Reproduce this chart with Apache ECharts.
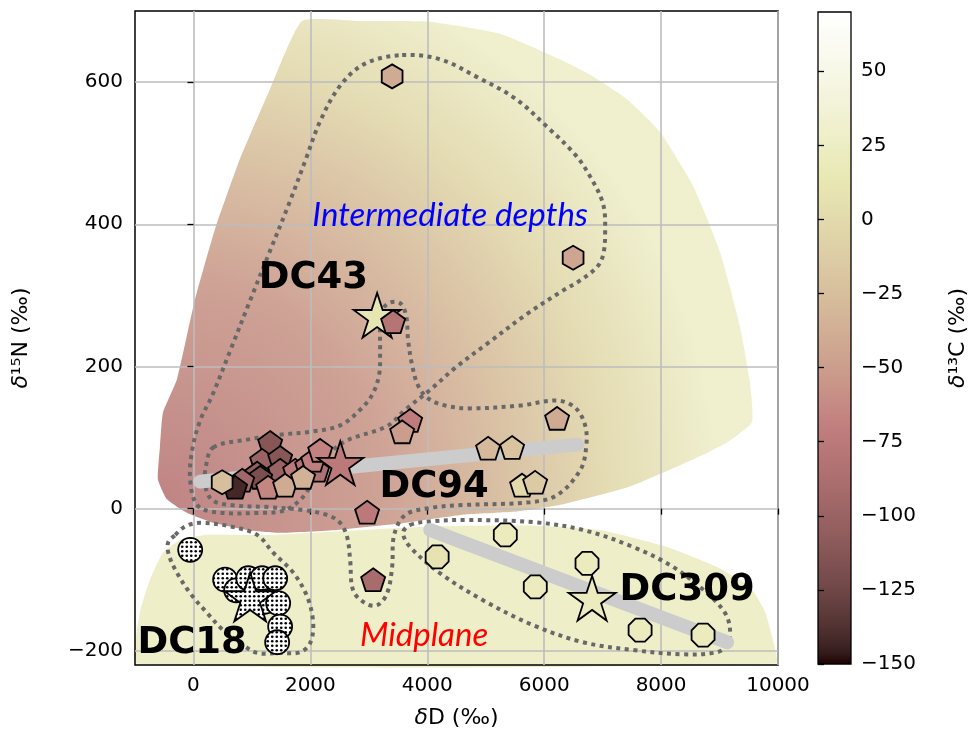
<!DOCTYPE html>
<html><head><meta charset="utf-8">
<script src="https://cdn.jsdelivr.net/npm/echarts@6/dist/echarts.min.js"></script>
<style>html,body{margin:0;padding:0;background:#fff}#c{width:974px;height:743px}</style>
</head><body><div id="c"></div>
<script>
// ===== DATA (δD ‰, δ15N ‰, δ13C ‰) =====
const xTicks = [0, 2000, 4000, 6000, 8000, 10000];
const yTicks = [-200, 0, 200, 400, 600];
const cbTicks = [-150, -125, -100, -75, -50, -25, 0, 25, 50];

const dc94Pentagons = [
  [1312, 93, -112], [1175, 68, -100], [1483, 72, -112], [1090, 50, -105], [1483, 54, -100],
  [1141, 44, -118], [834, 40, -95], [1740, 54, -75], [1945, 61, -80], [2116, 54, -85],
  [2048, 68, -70], [2168, 82, -68], [1278, 30, -65], [1568, 33, -40], [1876, 44, -35],
  [713, 30, -142],
  [2971, -5, -75], [3074, -100, -90], [3416, 263, -80], [3707, 124, -72], [3570, 108, -50],
  [5040, 85, -30], [5451, 86, -20], [5622, 33, 0], [5845, 37, -15], [6221, 127, -40]
];
const dc43Hexagons = [[3399, 608, -40], [6495, 353, -45], [491, 37, -25]];
const dc43Star = [[3142, 272, 12]];
const dc94Star = [[2512, 64, -75]];
const dc309Octagons = [[4169, -68, 8], [5335, -37, 20], [5848, -110, 20], [6733, -77, 20], [7641, -171, 20], [8718, -178, 20]];
const dc309Star = [[6820, -126, 20]];
const dc18Circles = [[-56, -58], [542, -100], [731, -115], [937, -98], [1176, -98], [1398, -98], [1227, -131], [1449, -133], [1483, -166], [1432, -188]];
const dc18Star = [[970, -128]];

const dc94Trend = [[115, 38], [6564, 90]];
const dc309Trend = [[4050, -30], [9129, -188]];

const intermediateRegion = [
  [1856, 686], [2849, 686], [4046, 685], [5244, 668], [6270, 632], [6835, 608], [7417, 576],
  [7981, 530], [8546, 454], [9008, 361], [9350, 256], [9521, 177], [9555, 122], [9128, 93],
  [8546, 69], [7468, 31], [6322, 6], [5535, -4], [4679, -8], [4046, -15], [3533, -21],
  [2455, -30], [1480, -34], [915, -30], [334, -20], [-111, -6], [-453, 13], [-607, 41],
  [-573, 87], [-522, 135], [-282, 182], [26, 294], [368, 393], [796, 492], [1309, 590]
];
const midplaneRegion = [
  [-967, -218], [-915, -146], [-744, -100], [-522, -62], [-231, -44], [197, -37], [1309, -37],
  [2677, -31], [4046, -25], [5808, -24], [6955, -30], [8101, -54], [8956, -82], [9521, -110],
  [9778, -145], [9914, -185], [9966, -218]
];

const dc43Loop = [
  [3570, 638], [4220, 632], [4853, 607], [5503, 577], [6051, 537], [6530, 498], [6787, 467],
  [7009, 428], [7043, 388], [7009, 357], [6906, 340], [6616, 321], [6325, 307], [5709, 274],
  [5025, 232], [4477, 198], [4050, 167], [3622, 139], [3313, 116], [2560, 93], [2167, 62],
  [1910, 20], [1568, -2], [1141, -6], [371, -5], [63, 5], [-56, 40], [-22, 82], [115, 124],
  [320, 159], [628, 222], [970, 293], [1278, 356], [1654, 433], [1911, 489], [2168, 545],
  [2510, 595], [2937, 626]
];
const dc94Loop = [
  [337, 86], [919, 97], [1483, 104], [1996, 108], [2509, 117], [2851, 139], [3056, 160],
  [3176, 188], [3193, 223], [3193, 255], [3227, 279], [3364, 290], [3535, 289], [3638, 272],
  [3672, 237], [3741, 202], [3843, 173], [4014, 155], [4305, 145], [4733, 141], [5588, 145],
  [6221, 152], [6530, 142], [6701, 117], [6718, 86], [6616, 54], [6221, 19], [5760, 9],
  [4614, 5], [4050, 1], [3622, -9], [3433, -37], [3399, -82], [3313, -119], [3142, -136],
  [2937, -133], [2732, -115], [2680, -72], [2629, -40], [2509, -20], [2287, -9], [1876, -2],
  [1312, 2], [628, 5], [320, 12], [200, 33], [217, 61]
];
const dc18Loop = [
  [-311, -37], [-142, -25], [115, -20], [628, -25], [1090, -37], [1364, -62], [1706, -90],
  [1946, -124], [2048, -161], [1997, -189], [1826, -202], [1483, -203], [1090, -203],
  [799, -189], [508, -171], [235, -147], [-56, -119], [-311, -86], [-430, -62], [-430, -47]
];
const dc309Loop = [
  [3707, -23], [4050, -18], [4682, -16], [5811, -19], [6666, -30], [7521, -54], [8205, -82],
  [8787, -119], [9095, -147], [9180, -171], [9129, -192], [8958, -202], [8377, -205],
  [7521, -199], [6666, -188], [5811, -164], [4955, -129], [4220, -91], [3707, -54], [3587, -34]
];

const sampleLabels = [['DC43', 2051, 324], ['DC94', 4118, 30], ['DC309', 8445, -115], ['DC18', -22, -189]];
const regionLabels = [['Intermediate depths', 4392, 413, '#0000ff'], ['Midplane', 3946, -178, '#ff0000']];

// ===== STYLE / HELPERS =====
const CB_MIN = -150, CB_MAX = 70;
function pinkRGB(t) {
  t = Math.max(0, Math.min(1, t));
  const i = 63 * t + 1;
  const r = Math.min(1, i / 24), g = Math.min(1, Math.max(0, (i - 24) / 24)), b = Math.min(1, Math.max(0, (i - 48) / 16));
  const f = h => Math.round(255 * Math.sqrt((2 * t + h) / 3));
  return 'rgb(' + f(r) + ',' + f(g) + ',' + f(b) + ')';
}
function cAt(v) { return pinkRGB((v - CB_MIN) / (CB_MAX - CB_MIN)); }
const cmapColors = [];
for (let k = 0; k <= 64; k++) cmapColors.push(pinkRGB(k / 64));
const cbStops = cmapColors.map((c, k) => ({ offset: k / 64, color: c }));

const PENT = 'path://M0,-100L95.1,-30.9L58.8,80.9L-58.8,80.9L-95.1,-30.9Z';
const HEX = 'path://M0,-100L86.6,-50L86.6,50L0,100L-86.6,50L-86.6,-50Z';
const OCT = 'path://M92.4,38.3L38.3,92.4L-38.3,92.4L-92.4,38.3L-92.4,-38.3L-38.3,-92.4L38.3,-92.4L92.4,-38.3Z';
const STAR = 'path://M0,-100L22.5,-30.9L95.1,-30.9L36.3,11.8L58.8,80.9L0,38.2L-58.8,80.9L-36.3,11.8L-95.1,-30.9L-22.5,-30.9Z';
const starUnit = [];
for (let k = 0; k < 10; k++) {
  const a = -Math.PI / 2 + k * Math.PI / 5, rr = k % 2 ? 0.382 : 1;
  starUnit.push([rr * Math.cos(a), rr * Math.sin(a)]);
}

const pc = document.createElement('canvas'); pc.width = 9; pc.height = 9;
(function () {
  const ctx = pc.getContext('2d'); ctx.fillStyle = '#fff'; ctx.fillRect(0, 0, 9, 9); ctx.fillStyle = '#000';
  [[2.25, 2.25], [6.75, 2.25], [2.25, 6.75], [6.75, 6.75]].forEach(p => { ctx.beginPath(); ctx.arc(p[0], p[1], 1.3, 0, Math.PI * 2); ctx.fill(); });
})();
const dotPattern = { image: pc, repeat: 'repeat' };

const FONT = '"DejaVu Sans", sans-serif';
const fmtNum = v => String(v).replace('-', '\u2212');
const border = { borderColor: '#000', borderWidth: 1.8, opacity: 1 };

function regionSeries(pts, fillFn, z, smooth, op) {
  return {
    type: 'custom', xAxisIndex: 0, yAxisIndex: 0, z: z, silent: true, data: [[0, 0]],
    renderItem: function (params, api) {
      const st = fillFn(api); st.opacity = op;
      return { type: 'polygon', shape: { points: pts.map(p => api.coord(p)), smooth: smooth }, style: st };
    }
  };
}
const gradCenter = [-570, 12];
const gradRadiusX = 9580;
const gradStops = [[0, -78], [0.4, -54], [0.62, -28], [0.8, -2], [1, 28]];

const loops = [dc43Loop, dc94Loop, dc18Loop, dc309Loop];

const option = {
  animation: false,
  backgroundColor: '#fff',
  grid: [
    { left: 135, top: 11, width: 643, height: 654, show: true, borderColor: '#000', borderWidth: 1.5, backgroundColor: 'transparent' },
    { left: 818, top: 12, width: 33, height: 652, show: true, borderColor: '#000', borderWidth: 1.3, backgroundColor: 'transparent' }
  ],
  xAxis: [
    {
      type: 'value', gridIndex: 0, min: -1000, max: 10000, splitNumber: 5,
      axisLine: { show: false },
      axisTick: { show: true, inside: false, length: 6, lineStyle: { color: '#000', width: 1.3 }, customValues: xTicks },
      axisLabel: { customValues: xTicks, formatter: v => xTicks.includes(v) ? fmtNum(v) : '', fontFamily: FONT, fontSize: 20, color: '#000', margin: 11 },
      splitLine: { show: true, lineStyle: { color: '#bdbdbd', width: 1.6 } },
      name: '{i|δ}D (‰)', nameLocation: 'middle', nameGap: 42,
      nameTextStyle: { fontFamily: FONT, fontSize: 22, color: '#000', rich: { i: { fontFamily: FONT, fontSize: 22, fontStyle: 'italic', color: '#000' } } }
    },
    { type: 'value', gridIndex: 1, min: 0, max: 1, show: false }
  ],
  yAxis: [
    {
      type: 'value', gridIndex: 0, min: -220, max: 700, splitNumber: 5,
      axisLine: { show: false },
      axisTick: { show: true, inside: false, length: 6, lineStyle: { color: '#000', width: 1.3 }, customValues: yTicks },
      axisLabel: { customValues: yTicks, formatter: v => yTicks.includes(v) ? fmtNum(v) : '', fontFamily: FONT, fontSize: 20, color: '#000', margin: 12 },
      splitLine: { show: true, lineStyle: { color: '#bdbdbd', width: 1.6 } },
      name: '{i|δ}¹⁵N (‰)', nameLocation: 'middle', nameGap: 103, nameRotate: 90,
      nameTextStyle: { fontFamily: FONT, fontSize: 22, color: '#000', rich: { i: { fontFamily: FONT, fontSize: 22, fontStyle: 'italic', color: '#000' } } }
    },
    {
      type: 'value', gridIndex: 1, min: CB_MIN, max: CB_MAX, interval: 25, position: 'right',
      axisLine: { show: false },
      axisTick: { show: true, inside: false, length: 6, lineStyle: { color: '#000', width: 1.3 }, customValues: cbTicks },
      axisLabel: { customValues: cbTicks, formatter: v => cbTicks.includes(v) ? fmtNum(v) : '', fontFamily: FONT, fontSize: 20, color: '#000', margin: 10 },
      splitLine: { show: false },
      name: '{i|δ}¹³C (‰)', nameLocation: 'middle', nameGap: 96, nameRotate: 90,
      nameTextStyle: { fontFamily: FONT, fontSize: 22, color: '#000', rich: { i: { fontFamily: FONT, fontSize: 22, fontStyle: 'italic', color: '#000' } } }
    }
  ],
  visualMap: {
    type: 'continuous', show: false, min: CB_MIN, max: CB_MAX, dimension: 2,
    seriesIndex: [9, 10, 11, 12, 13, 14], inRange: { color: cmapColors, opacity: [1, 1] }
  },
  series: [
    // 0 intermediate region
    regionSeries(intermediateRegion, function (api) {
      const c = api.coord(gradCenter); const r = api.size([gradRadiusX, 0])[0];
      return {
        fill: { type: 'radial', x: c[0], y: c[1], r: r, global: true, colorStops: gradStops.map(s => ({ offset: s[0], color: cAt(s[1]) })) },
        stroke: null
      };
    }, -2, 0.15, 0.9),
    // 1 midplane region
    regionSeries(midplaneRegion, function () { return { fill: cAt(28), stroke: null }; }, -2, 0.15, 1),
    // 2,3 trend lines
    { type: 'line', data: dc94Trend, symbol: 'none', z: 1, silent: true, lineStyle: { color: '#cccccc', width: 14, cap: 'round' } },
    { type: 'line', data: dc309Trend, symbol: 'none', z: 1, silent: true, lineStyle: { color: '#cccccc', width: 14, cap: 'round' } },
    // 4 dotted loops
    {
      type: 'custom', z: 1, silent: true, data: loops.map((l, i) => [0, 0, i]),
      renderItem: function (params, api) {
        const pts = loops[api.value(2)].map(p => api.coord(p));
        return { type: 'polygon', shape: { points: pts, smooth: 0.35 }, style: { fill: null, stroke: '#686868', lineWidth: 4, lineDash: [4, 4.5] } };
      }
    },
    // 5 colorbar
    {
      type: 'custom', xAxisIndex: 1, yAxisIndex: 1, z: -1, silent: true, data: [[0, CB_MIN]],
      renderItem: function (params, api) {
        const tl = api.coord([0, CB_MAX]), br = api.coord([1, CB_MIN]);
        return { type: 'rect', shape: { x: tl[0], y: tl[1], width: br[0] - tl[0], height: br[1] - tl[1] },
          style: { fill: new echarts.graphic.LinearGradient(0, 1, 0, 0, cbStops) } };
      }
    },
    // 6 DC18 circles (dot-hatched)
    {
      type: 'custom', z: 2, silent: true, data: dc18Circles,
      renderItem: function (params, api) {
        const p = api.coord([api.value(0), api.value(1)]);
        return { type: 'circle', shape: { cx: p[0], cy: p[1], r: 12 }, style: { fill: dotPattern, stroke: '#000', lineWidth: 1.8 } };
      }
    },
    // 7 DC18 star (dot-hatched)
    {
      type: 'custom', z: 2, silent: true, data: dc18Star,
      renderItem: function (params, api) {
        const p = api.coord([api.value(0), api.value(1)]); const R = 27;
        return { type: 'polygon', shape: { points: starUnit.map(u => [p[0] + R * u[0], p[1] + R * u[1]]) }, style: { fill: dotPattern, stroke: '#000', lineWidth: 1.8 } };
      }
    },
    // 8 placeholder
    { type: 'scatter', data: [] },
    // 9 DC43 star
    { type: 'scatter', data: dc43Star, symbol: STAR, symbolKeepAspect: true, symbolSize: 47, itemStyle: border },
    // 10 DC94 pentagons
    { type: 'scatter', data: dc94Pentagons, symbol: PENT, symbolKeepAspect: true, symbolSize: 24, itemStyle: border },
    // 11 DC43 hexagons
    { type: 'scatter', data: dc43Hexagons, symbol: HEX, symbolKeepAspect: true, symbolSize: 24, itemStyle: border },
    // 12 DC94 star
    { type: 'scatter', data: dc94Star, symbol: STAR, symbolKeepAspect: true, symbolSize: 46, itemStyle: border },
    // 13 DC309 octagons
    { type: 'scatter', data: dc309Octagons, symbol: OCT, symbolKeepAspect: true, symbolSize: 23, itemStyle: border },
    // 14 DC309 star
    { type: 'scatter', data: dc309Star, symbol: STAR, symbolKeepAspect: true, symbolSize: 47, itemStyle: border },
    // 15 texts
    {
      type: 'custom', z: 10, silent: true,
      data: sampleLabels.map((l, i) => [l[1], l[2], i, 0]).concat(regionLabels.map((l, i) => [l[1], l[2], i, 1])),
      renderItem: function (params, api) {
        const p = api.coord([api.value(0), api.value(1)]);
        const kind = api.value(3), idx = api.value(2);
        if (kind === 0) {
          return { type: 'text', x: p[0], y: p[1], style: { text: sampleLabels[idx][0], font: 'bold 37px "DejaVu Sans"', fill: '#000', textAlign: 'center', textVerticalAlign: 'middle', align: 'center', verticalAlign: 'middle' } };
        }
        const l = regionLabels[idx];
        return { type: 'text', x: p[0], y: p[1], style: { text: l[0], font: 'italic 33px Lato', fill: l[3], textAlign: 'center', textVerticalAlign: 'middle', align: 'center', verticalAlign: 'middle' } };
      }
    }
  ]
};
const chart = echarts.init(document.getElementById('c'));
chart.setOption(option);
</script>
</body></html>
